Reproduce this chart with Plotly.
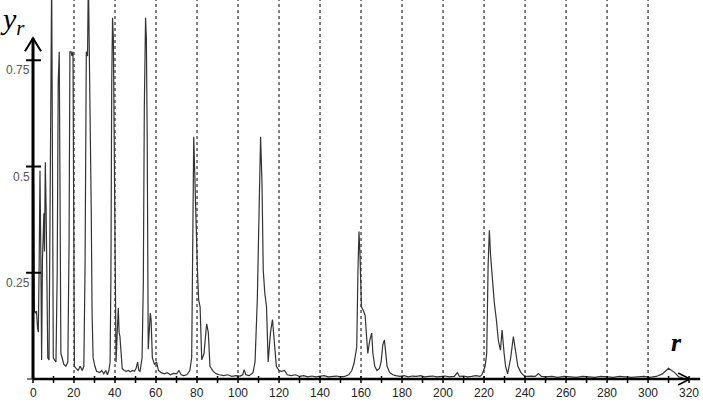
import plotly.graph_objects as go

# spectrum values
r = [0.3, 0.7, 1.2, 1.7, 2.2, 2.6, 3.0, 3.4, 3.8, 4.2, 4.6, 5.0, 5.3, 5.6, 6.0, 6.4, 6.8, 7.2, 7.8,
     8.3, 8.7, 9.1, 9.5, 9.9, 10.5, 11.2, 11.8, 12.3, 12.8, 13.2, 13.6, 14.2, 15.0, 16.0, 17.0,
     17.6, 18.0, 18.6, 19.0, 19.5, 19.8, 20.2, 21.0, 22.0, 23.0, 24.0, 24.8, 25.4, 26.0, 26.6,
     27.0, 27.4, 27.9, 28.4, 28.8, 29.3, 30.2, 31.0, 32.5, 33.5, 34.5, 35.5, 36.3, 37.0, 37.6,
     38.0, 38.4, 38.8, 39.2, 39.6, 40.0, 40.5, 41.0, 41.6, 42.0, 42.4, 43.0, 43.5, 44.5, 45.5,
     46.5, 47.5, 48.5, 49.5, 50.3, 51.0, 51.6, 52.2, 53.2, 53.8, 54.3, 54.9, 55.3, 55.7, 56.2,
     56.8, 57.2, 57.6, 58.2, 59.2, 60.3, 61.2, 62.5, 64.0, 65.5, 67.0, 68.5, 70.0, 71.2, 72.3,
     73.5, 75.0, 76.5, 77.4, 77.9, 78.4, 78.8, 79.2, 79.6, 80.2, 80.8, 81.5, 82.3, 83.4, 84.2,
     84.7, 85.5, 86.3, 87.9, 89.5, 91.0, 93.0, 95.0, 97.0, 99.0, 101.0, 102.3, 103.0, 103.8,
     105.5, 107.3, 108.3, 109.4, 110.4, 111.0, 111.7, 112.3, 113.1, 113.9, 114.7, 115.8, 116.8,
     117.4, 118.7, 120.0, 121.1, 122.7, 124.0, 126.0, 128.0, 130.0, 132.0, 134.0, 136.0, 138.0,
     140.0, 142.0, 144.0, 146.0, 148.0, 150.0, 152.0, 154.0, 155.5, 156.6, 157.9, 158.5, 159.0,
     159.5, 160.2, 161.2, 162.0, 162.7, 163.3, 164.2, 165.2, 165.8, 166.7, 167.8, 169.0, 169.8,
     170.6, 171.4, 172.0, 172.7, 174.0, 175.5, 177.0, 179.0, 181.0, 183.0, 185.0, 187.0, 189.0,
     191.0, 193.0, 195.0, 197.0, 199.0, 201.0, 203.0, 205.5, 207.0, 208.0, 210.0, 212.0, 214.0,
     216.0, 218.0, 219.0, 220.5, 221.3, 222.0, 222.6, 223.2, 224.0, 225.0, 226.0, 227.0, 228.0,
     228.8, 229.8, 230.5, 231.5, 233.0, 234.3, 235.5, 236.5, 238.0, 239.5, 241.0, 243.0, 245.0,
     246.5, 248.0, 250.0, 253.0, 256.0, 259.0, 262.0, 265.0, 268.0, 271.0, 274.0, 277.0, 280.0,
     283.0, 286.0, 289.0, 292.0, 295.0, 298.0, 301.0, 304.0, 307.0, 310.0, 313.0, 315.0, 317.0,
     320.0, 322.0]
y_r = [0.46, 0.16, 0.155, 0.16, 0.12, 0.11, 0.27, 0.49, 0.30, 0.045, 0.28, 0.38, 0.39, 0.30, 0.51,
       0.40, 0.12, 0.05, 0.045, 0.30, 0.66, 0.95, 0.50, 0.05, 0.045, 0.04, 0.25, 0.70, 0.77, 0.50,
       0.06, 0.05, 0.035, 0.03, 0.04, 0.33, 0.77, 0.77, 0.76, 0.77, 0.25, 0.03, 0.025, 0.02, 0.03,
       0.02, 0.03, 0.27, 0.77, 0.76, 0.95, 0.81, 0.55, 0.40, 0.16, 0.05, 0.03, 0.018, 0.015, 0.02,
       0.012, 0.02, 0.01, 0.02, 0.04, 0.24, 0.70, 0.85, 0.80, 0.55, 0.22, 0.04, 0.10, 0.167, 0.11,
       0.10, 0.06, 0.025, 0.02, 0.018, 0.02, 0.017, 0.02, 0.018, 0.025, 0.04, 0.02, 0.018, 0.05,
       0.225, 0.64, 0.85, 0.80, 0.57, 0.07, 0.12, 0.155, 0.14, 0.05, 0.035, 0.04, 0.02, 0.015,
       0.012, 0.015, 0.01, 0.013, 0.012, 0.02, 0.01, 0.008, 0.01, 0.02, 0.05, 0.26, 0.57, 0.50,
       0.45, 0.36, 0.256, 0.186, 0.17, 0.045, 0.06, 0.11, 0.13, 0.11, 0.03, 0.018, 0.012, 0.01,
       0.008, 0.01, 0.006, 0.008, 0.007, 0.01, 0.022, 0.01, 0.008, 0.015, 0.04, 0.186, 0.42,
       0.57, 0.46, 0.256, 0.20, 0.17, 0.04, 0.108, 0.14, 0.11, 0.03, 0.02, 0.018, 0.02, 0.01,
       0.008, 0.01, 0.006, 0.008, 0.005, 0.007, 0.005, 0.006, 0.008, 0.005, 0.006, 0.007, 0.005,
       0.006, 0.01, 0.02, 0.037, 0.075, 0.256, 0.347, 0.29, 0.17, 0.16, 0.15, 0.10, 0.06, 0.09,
       0.108, 0.06, 0.03, 0.02, 0.025, 0.04, 0.08, 0.092, 0.06, 0.03, 0.015, 0.01, 0.008, 0.006,
       0.008, 0.005, 0.007, 0.006, 0.008, 0.005, 0.006, 0.007, 0.005, 0.006, 0.007, 0.005, 0.006,
       0.015, 0.006, 0.007, 0.005, 0.006, 0.008, 0.006, 0.01, 0.03, 0.06, 0.27, 0.35, 0.29, 0.24,
       0.18, 0.14, 0.09, 0.068, 0.115, 0.06, 0.03, 0.012, 0.05, 0.10, 0.06, 0.03, 0.015, 0.008,
       0.006, 0.007, 0.006, 0.013, 0.006, 0.005, 0.006, 0.004, 0.006, 0.005, 0.004, 0.006, 0.005,
       0.004, 0.006, 0.005, 0.004, 0.006, 0.005, 0.004, 0.005, 0.006, 0.004, 0.006, 0.012, 0.025,
       0.015, 0.005, 0.003]

x_ticks = list(range(0, 330, 10))
x_labels = list(range(0, 340, 20))
grid_r = list(range(20, 320, 20))
y_ticks = [0.25, 0.5, 0.75]
y_tick_labels = ["0.25", "0.5", "0.75"]

fig = go.Figure()
fig.add_trace(go.Scatter(x=r, y=y_r, mode="lines",
                         line=dict(color="#333333", width=1.2), hoverinfo="skip"))

shapes = []
# dashed verticals
for v in grid_r:
    shapes.append(dict(type="line", xref="x", yref="y", x0=v, x1=v, y0=0, y1=0.9,
                       line=dict(color="black", width=1, dash="3px,3px"), layer="below"))

# axes
shapes.append(dict(type="line", xref="x", yref="y", x0=0, x1=325.4, y0=0, y1=0,
                   line=dict(color="black", width=2.5)))
shapes.append(dict(type="line", xref="x", yref="y", x0=0, x1=0, y0=0, y1=0.802,
                   line=dict(color="black", width=3)))
# arrow heads
shapes.append(dict(type="path", xref="x", yref="y", xsizemode="pixel", ysizemode="pixel",
                   xanchor=0, yanchor=0.802, path="M -8 -13 L 0 0 L 8 -13",
                   line=dict(color="black", width=2)))
shapes.append(dict(type="path", xref="x", yref="y", xsizemode="pixel", ysizemode="pixel",
                   xanchor=320.5, yanchor=0, path="M -12 6 L 0 0 L -12 -6",
                   line=dict(color="black", width=1.5)))

# ticks
for t in x_ticks:
    shapes.append(dict(type="line", xref="x", yref="y", ysizemode="pixel", yanchor=0,
                       x0=t, x1=t, y0=-4, y1=3, line=dict(color="black", width=1.5)))
for t in y_ticks:
    shapes.append(dict(type="line", xref="x", yref="y", xsizemode="pixel", xanchor=0,
                       x0=-7, x1=8, y0=t, y1=t, line=dict(color="black", width=2)))
shapes.append(dict(type="line", xref="x", yref="y", xsizemode="pixel", xanchor=0,
                   x0=-6, x1=0, y0=0, y1=0, line=dict(color="black", width=1)))

annotations = []
for t in x_labels:
    annotations.append(dict(x=t, y=0, xref="x", yref="y", text=str(t), showarrow=False,
                            yanchor="top", yshift=-5,
                            font=dict(family="Liberation Sans", size=12, color="#222")))
for t, lab in zip(y_ticks, y_tick_labels):
    annotations.append(dict(x=0, y=t, xref="x", yref="y", text=lab, showarrow=False,
                            xanchor="right", yanchor="top", xshift=-1, yshift=-1,
                            font=dict(family="Liberation Sans", size=12, color="#555")))
annotations.append(dict(x=0, y=1, xref="paper", yref="paper", text="<i>y<sub>r</sub></i>",
                        showarrow=False, xanchor="left", yanchor="top", xshift=-2, yshift=0,
                        font=dict(family="Liberation Serif", size=30, color="black")))
annotations.append(dict(x=310, y=0, xref="x", yref="y", text="<i><b>r</b></i>",
                        showarrow=False, xanchor="left", yanchor="bottom", yshift=20,
                        font=dict(family="Liberation Serif", size=26, color="black")))

fig.update_layout(
    width=703, height=402,
    margin=dict(l=0, r=0, t=0, b=0),
    paper_bgcolor="white", plot_bgcolor="white",
    showlegend=False,
    xaxis=dict(range=[-16.1, 326.8], visible=False),
    yaxis=dict(range=[-0.0541, 0.8918], visible=False),
    shapes=shapes,
    annotations=annotations,
)

# page body has a default 8px margin; drop it so the figure fills the window
fig.write_html("out.html", config={"displayModeBar": False},
               post_script="document.body.style.margin='0';")
